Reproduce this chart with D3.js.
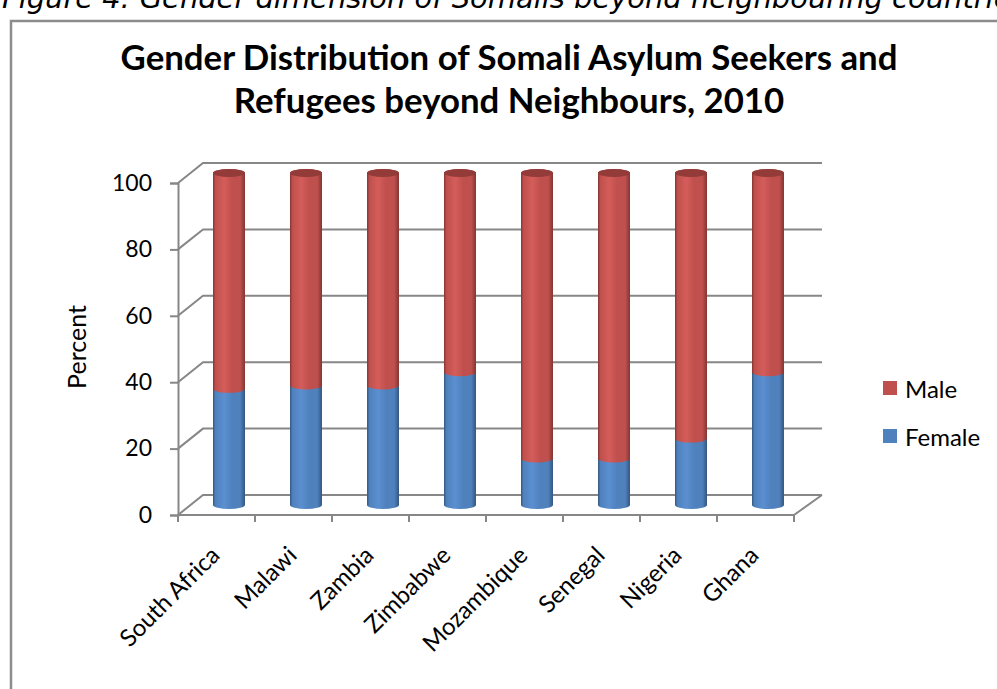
<!DOCTYPE html>
<html>
<head>
<meta charset="utf-8">
<script src="https://cdn.jsdelivr.net/npm/d3@7"></script>
<style>
  html, body { margin: 0; padding: 0; background: #fff; }
  svg { display: block; }
</style>
</head>
<body>
<svg id="chart" width="997" height="689"></svg>
<script>
// ---------- data ----------
const categories = ["South Africa", "Malawi", "Zambia", "Zimbabwe", "Mozambique", "Senegal", "Nigeria", "Ghana"];
const female = [35, 36, 36, 40, 14, 14, 20, 40];
const male = [65, 64, 64, 60, 86, 86, 80, 60];
const seriesNames = ["Female", "Male"];
const yTicks = [0, 20, 40, 60, 80, 100];
const titleLines = ["Gender Distribution of Somali Asylum Seekers and", "Refugees beyond Neighbours, 2010"];
const captionText = "Figure 4: Gender dimension of Somalis beyond neighbouring countries";
const yAxisTitle = "Percent";

// ---------- layout ----------
const svg = d3.select("#chart");
const W = 997, H = 689;
const font = "Lato, 'Open Sans', sans-serif";
const gridColor = "#878787";
const depthX = 25, depthY = -20;      // 3D depth offset of back wall
const front = { left: 178, right: 794, top: 183, bottom: 515 };

const x = d3.scaleBand().domain(categories).range([front.left, front.right]);
const y = d3.scaleLinear().domain([0, 100]).range([front.bottom, front.top]);

const colors = {
  Female: { base: "#4F81BD", light: "#5B8FD0", dark: "#34577F", cap: "#3F6A9C" },
  Male:   { base: "#C0504D", light: "#D45D5A", dark: "#833633", cap: "#923B38" }
};

// caption (cut off at the top, as in the source document)
const cap = svg.append("text")
  .attr("x", 2).attr("y", 8)
  .attr("font-family", "'DejaVu Sans', Verdana, sans-serif")
  .attr("font-style", "italic")
  .attr("font-size", 26)
  .attr("fill", "#000")
  .text(captionText);
{
  const len = cap.node().getComputedTextLength();
  cap.attr("font-size", 26 * 1025 / len);
}

// frame
svg.append("path")
  .attr("d", `M11,${H + 2} L11,21 L${W + 2},21`)
  .attr("fill", "none").attr("stroke", "#8C8C8C").attr("stroke-width", 2.5);

// title
const titleY = [70, 113];
const titleTexts = titleLines.map((t, i) => svg.append("text")
    .attr("x", 509).attr("y", titleY[i])
    .attr("text-anchor", "middle")
    .attr("font-family", font)
    .attr("font-weight", "bold")
    .attr("font-size", 30)
    .attr("fill", "#000")
    .text(t));
{
  const len = titleTexts[0].node().getComputedTextLength();
  const fs = 30 * 777 / len;
  titleTexts.forEach(t => t.attr("font-size", fs));
}

// defs: gradients
const defs = svg.append("defs");
seriesNames.forEach(s => {
  const c = colors[s];
  const g = defs.append("linearGradient").attr("id", "grad" + s)
    .attr("x1", 0).attr("x2", 1).attr("y1", 0).attr("y2", 0);
  [[0, c.dark], [0.08, c.base], [0.35, c.light], [0.6, c.base], [0.85, c.base], [1, c.dark]]
    .forEach(([o, col]) => g.append("stop").attr("offset", o).attr("stop-color", col));
});

// gridlines: left wall diagonals + back wall horizontals
const grid = svg.append("g").attr("stroke", gridColor).attr("stroke-width", 2).attr("fill", "none");
yTicks.forEach(v => {
  const yy = y(v);
  grid.append("path")
    .attr("d", `M${front.left},${yy} L${front.left + depthX},${yy + depthY} L${front.right + depthX + 3},${yy + depthY}`);
});
// floor right diagonal
grid.append("path")
  .attr("d", `M${front.right},${front.bottom} L${front.right + depthX + 3},${front.bottom + depthY}`);

// y axis
const yAxis = d3.axisLeft(y).tickValues(yTicks).tickSize(8).tickPadding(18).tickFormat(d3.format("d"));
const yg = svg.append("g").attr("transform", `translate(${front.left},0)`).call(yAxis);
yg.select(".domain").attr("stroke", gridColor).attr("stroke-width", 2);
yg.selectAll(".tick line").attr("stroke", gridColor).attr("stroke-width", 2);
yg.selectAll(".tick text").attr("font-family", font).attr("font-size", 23).attr("fill", "#000");

// x axis (ticks at category boundaries)
const xg = svg.append("g").attr("stroke", gridColor).attr("stroke-width", 2);
xg.append("line").attr("x1", front.left).attr("x2", front.right).attr("y1", front.bottom).attr("y2", front.bottom);
const bounds = categories.map(c => x(c)).concat([x(categories[categories.length - 1]) + x.bandwidth()]);
bounds.forEach(b => {
  xg.append("line").attr("x1", b).attr("x2", b).attr("y1", front.bottom).attr("y2", front.bottom + 7);
});

// category labels
svg.append("g").selectAll("text").data(categories).join("text")
  .attr("transform", d => `translate(${x(d) + x.bandwidth() / 2 - 2},${front.bottom + 35}) rotate(-45)`)
  .attr("text-anchor", "end")
  .attr("dominant-baseline", "central")
  .attr("font-family", font).attr("font-size", 24).attr("fill", "#000")
  .text(d => d);

// y axis title
svg.append("text")
  .attr("transform", `translate(76,347) rotate(-90)`)
  .attr("text-anchor", "middle")
  .attr("dominant-baseline", "central")
  .attr("font-family", font).attr("font-size", 25).attr("fill", "#000")
  .text(yAxisTitle);

// cylinders
const rx = 16, ry = 4;
const bars = svg.append("g");
categories.forEach((c, i) => {
  const cx = x(c) + x.bandwidth() / 2 + depthX / 2;
  const off = depthY / 2;
  const segs = [
    { s: "Female", v0: 0, v1: female[i] },
    { s: "Male", v0: female[i], v1: female[i] + male[i] }
  ];
  segs.forEach((sg, j) => {
    const yb = y(sg.v0) + off, yt = y(sg.v1) + off;
    bars.append("path")
      .attr("d", `M${cx - rx},${yt} L${cx - rx},${yb} A${rx},${ry} 0 0 0 ${cx + rx},${yb} L${cx + rx},${yt} A${rx},${ry} 0 0 0 ${cx - rx},${yt} Z`)
      .attr("fill", `url(#grad${sg.s})`);
    if (j === segs.length - 1) {
      bars.append("ellipse")
        .attr("cx", cx).attr("cy", yt).attr("rx", rx).attr("ry", ry)
        .attr("fill", colors[sg.s].cap);
    }
  });
});

// legend
const legendY = [388, 436];
const lg = svg.append("g");
["Male", "Female"].forEach((s, i) => {
  lg.append("rect").attr("x", 883).attr("y", legendY[i] - 7).attr("width", 14).attr("height", 14)
    .attr("fill", colors[s].base);
  lg.append("text").attr("x", 905).attr("y", legendY[i])
    .attr("dominant-baseline", "central")
    .attr("font-family", font).attr("font-size", 24).attr("fill", "#000")
    .text(s);
});
</script>
</body>
</html>
